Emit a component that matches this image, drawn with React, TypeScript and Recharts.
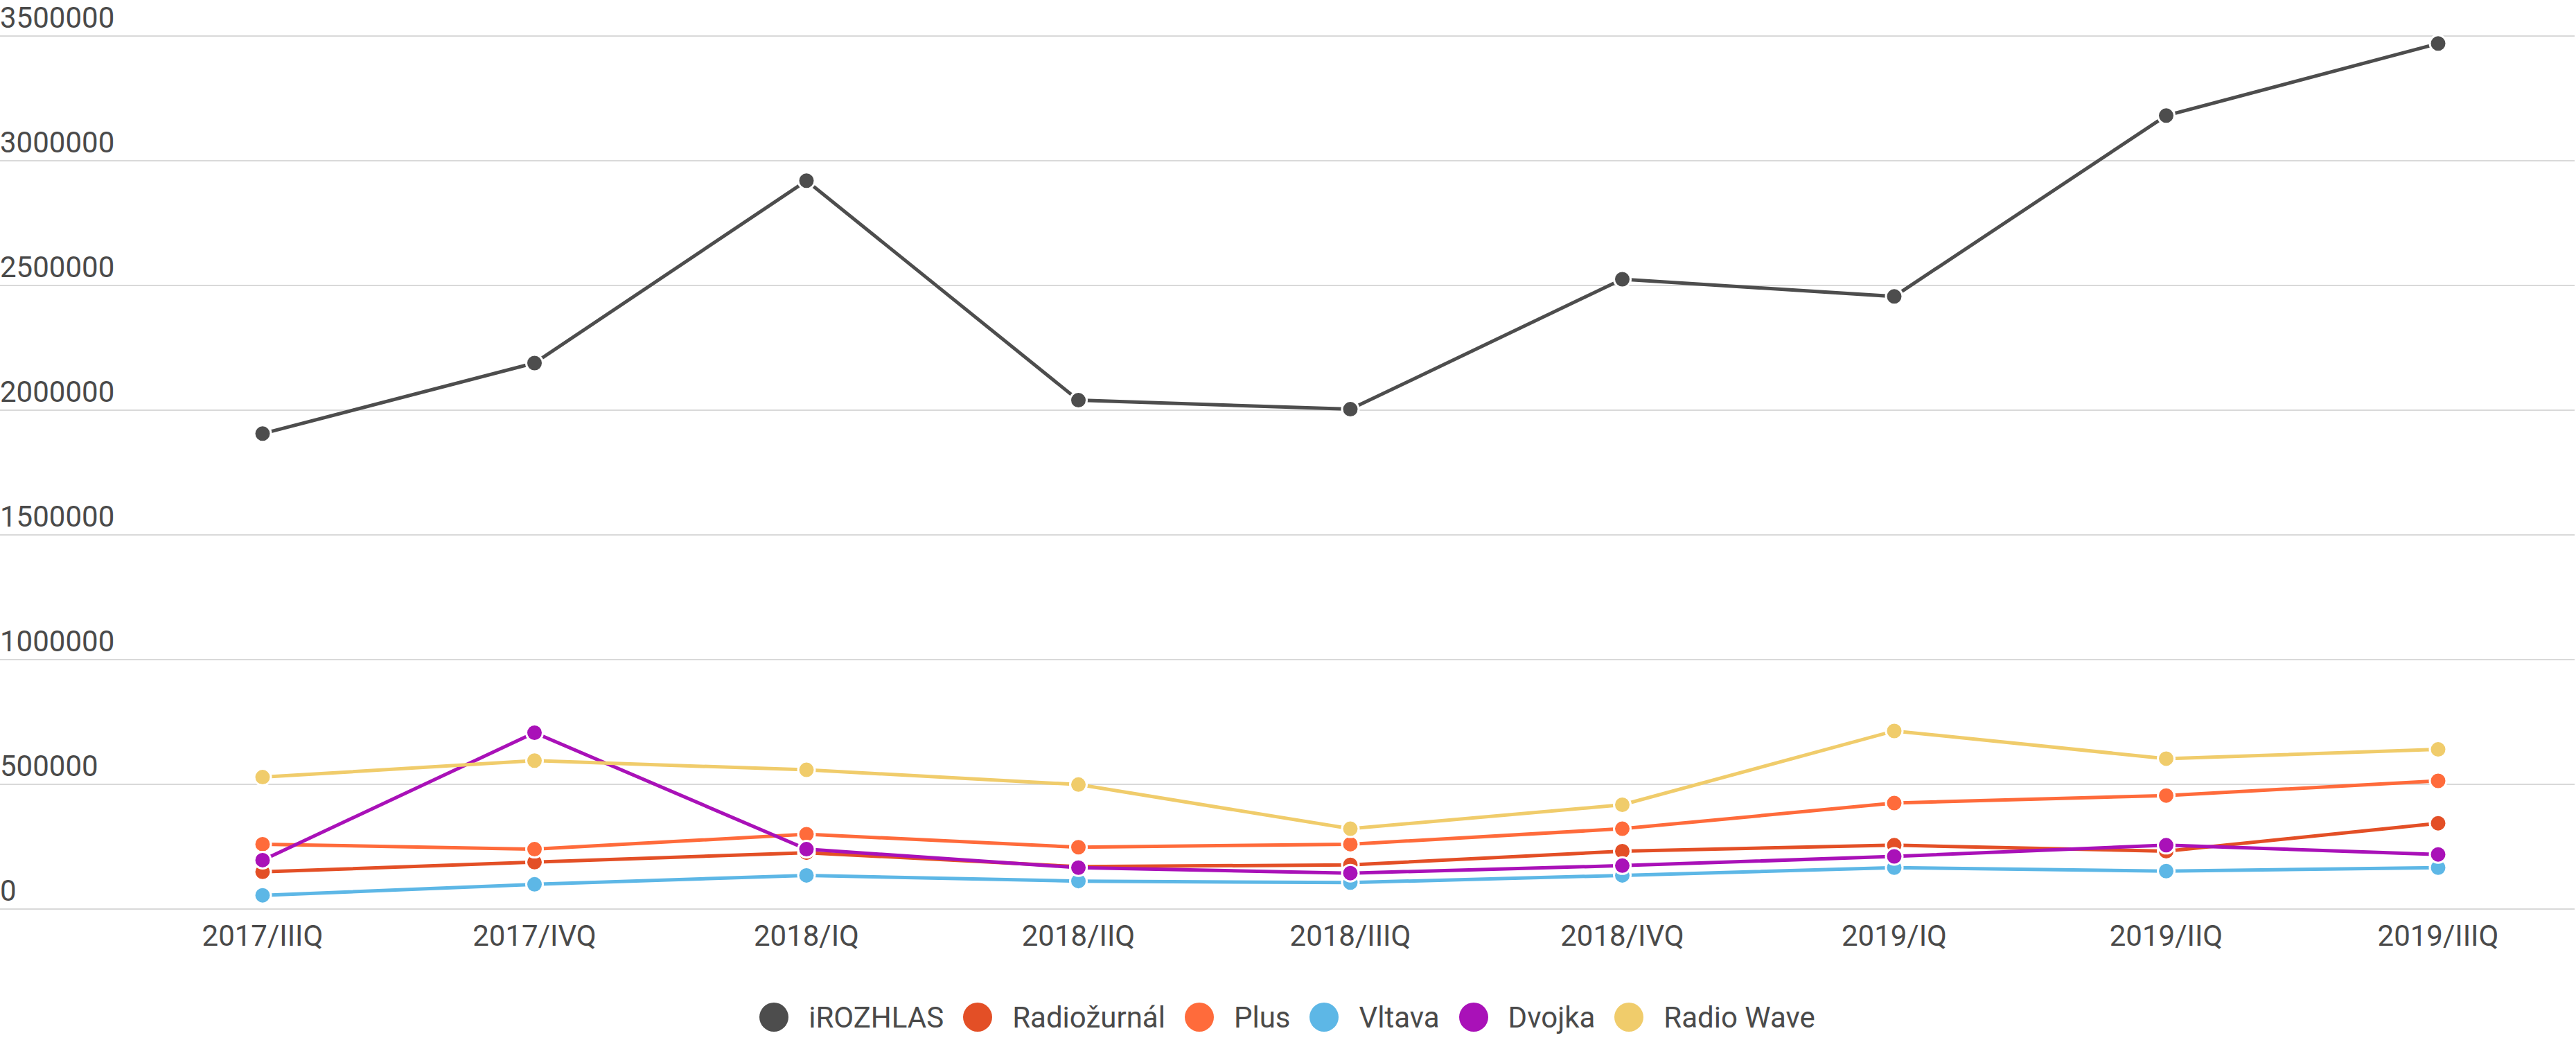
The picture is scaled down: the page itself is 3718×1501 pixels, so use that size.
import React from "react";
import { LineChart, Line, XAxis, YAxis, CartesianGrid, Legend } from "recharts";

const categories = [
  "2017/IIIQ",
  "2017/IVQ",
  "2018/IQ",
  "2018/IIQ",
  "2018/IIIQ",
  "2018/IVQ",
  "2019/IQ",
  "2019/IIQ",
  "2019/IIIQ",
];

const irozhlas = [1906000, 2189000, 2920000, 2040000, 2004000, 2525000, 2456000, 3181000, 3470000];
const radiozurnal = [149000, 188000, 226000, 170000, 177000, 232000, 256000, 232000, 344000];
const plus = [260000, 240000, 300000, 248000, 260000, 322000, 425000, 455000, 514000];
const vltava = [55000, 99000, 135000, 112000, 106000, 135000, 166000, 152000, 166000];
const dvojka = [196000, 707000, 240000, 166000, 144000, 174000, 211000, 256000, 219000];
const radioWave = [529000, 595000, 558000, 499000, 322000, 418000, 714000, 603000, 640000];

const yTicks = [0, 500000, 1000000, 1500000, 2000000, 2500000, 3000000, 3500000];

const series = [
  { key: "iROZHLAS", values: irozhlas, color: "#4d4d4d" },
  { key: "Radiožurnál", values: radiozurnal, color: "#e34f26" },
  { key: "Plus", values: plus, color: "#ff6b3b" },
  { key: "Vltava", values: vltava, color: "#5db7e6" },
  { key: "Dvojka", values: dvojka, color: "#a911b8" },
  { key: "Radio Wave", values: radioWave, color: "#f0cc6b" },
];

const data = categories.map((cat, i) => {
  const row: Record<string, string | number> = { quarter: cat };
  series.forEach((s) => {
    row[s.key] = s.values[i];
  });
  return row;
});

const FONT = "Roboto, 'Noto Sans', sans-serif";
const TEXT = "#4a4a4a";

function YTick(props: any) {
  const { y, payload } = props;
  return (
    <text x={0} y={y - 12} fill={TEXT} fontSize={42} fontFamily={FONT} textAnchor="start">
      {payload.value}
    </text>
  );
}

function XTick(props: any) {
  const { x, y, payload } = props;
  return (
    <text x={x} y={y} dy={53} fill={TEXT} fontSize={42} fontFamily={FONT} textAnchor="middle">
      {payload.value}
    </text>
  );
}

function LegendContent() {
  return (
    <div
      style={{
        display: "flex",
        justifyContent: "center",
        alignItems: "center",
        height: 60,
        fontFamily: FONT,
        fontSize: 42,
        color: TEXT,
      }}
    >
      {series.map((s, i) => (
        <div
          key={s.key}
          style={{ display: "flex", alignItems: "center", marginRight: i < series.length - 1 ? 28 : 0 }}
        >
          <span
            style={{
              width: 42,
              height: 42,
              borderRadius: "50%",
              background: s.color,
              display: "inline-block",
              marginRight: 29,
            }}
          />
          <span style={{ whiteSpace: "nowrap" }}>{s.key}</span>
        </div>
      ))}
    </div>
  );
}

export default function App() {
  return (
    <div style={{ position: "absolute", left: 0, top: 0, width: 3718, height: 1501, background: "#fff" }}>
      <LineChart
        width={3718}
        height={1501}
        data={data}
        margin={{ top: 52, right: 2, bottom: 3, left: 0 }}
      >
        <CartesianGrid vertical={false} stroke="#d9d9d9" strokeWidth={2} />
        <XAxis
          dataKey="quarter"
          axisLine={false}
          tickLine={false}
          tickSize={0}
          tickMargin={0}
          height={126}
          padding={{ left: 379, right: 197 }}
          tick={<XTick />}
          interval={0}
        />
        <YAxis
          mirror
          width={200}
          domain={[0, 3500000]}
          ticks={yTicks}
          axisLine={false}
          tickLine={false}
          tick={<YTick />}
          interval={0}
        />
        <Legend verticalAlign="bottom" height={60} content={<LegendContent />} />
        {series.map((s) => (
          <Line
            key={s.key}
            type="linear"
            dataKey={s.key}
            stroke={s.color}
            strokeWidth={5}
            dot={{ r: 12, fill: s.color, stroke: "#fff", strokeWidth: 3 }}
            activeDot={false}
            isAnimationActive={false}
          />
        ))}
      </LineChart>
    </div>
  );
}
